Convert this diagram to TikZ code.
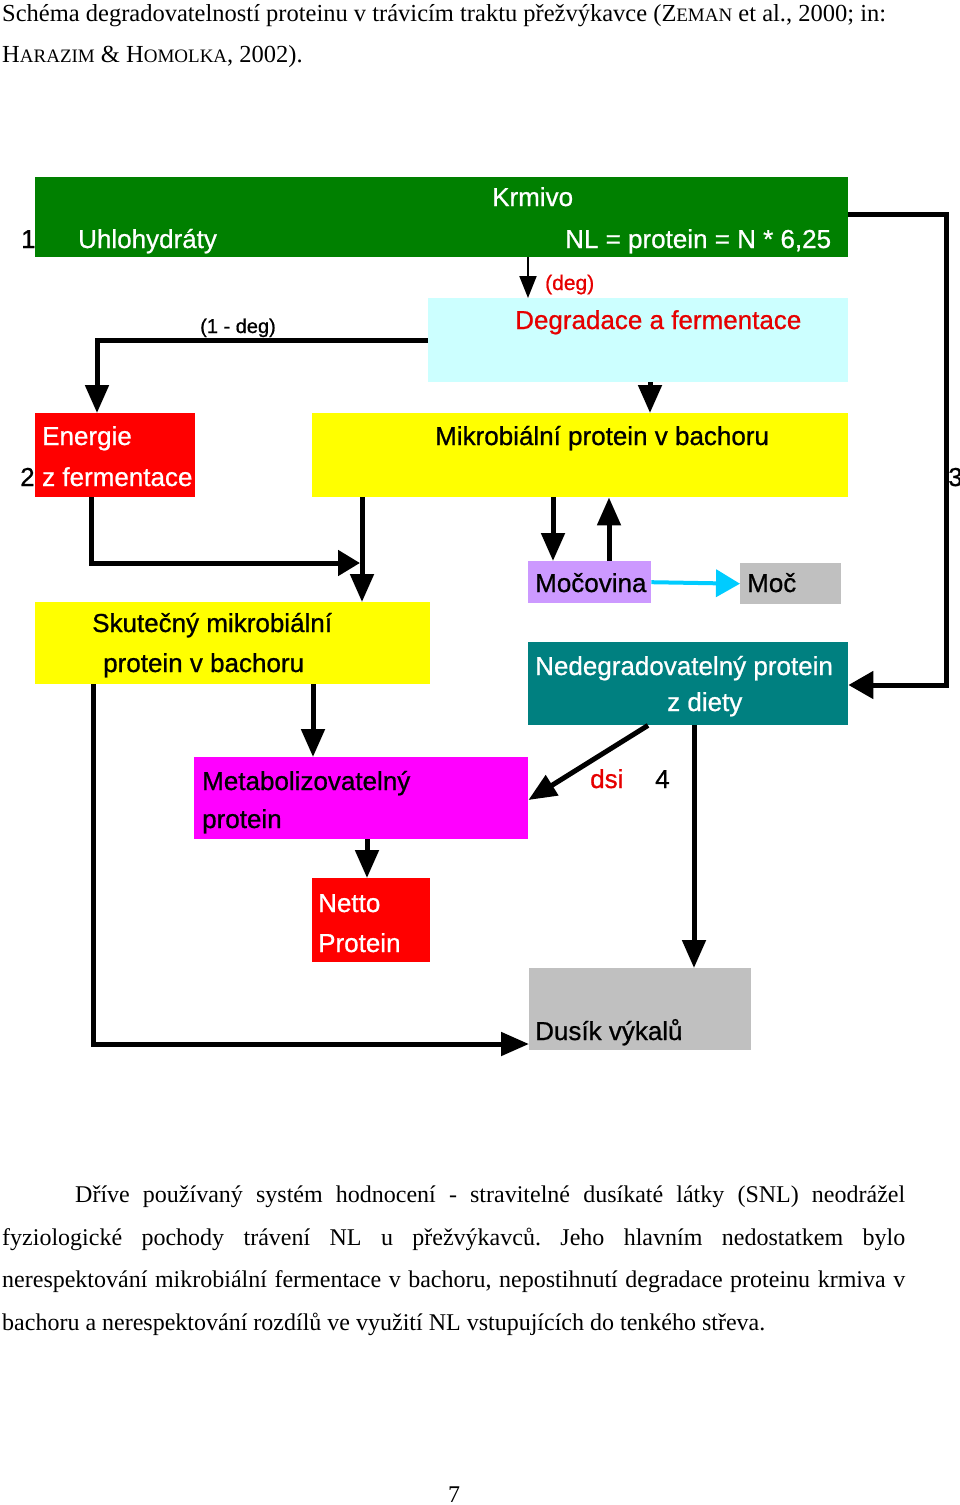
\documentclass[tikz,border=0pt]{standalone}
\usepackage{fontspec}
\setmainfont{Liberation Serif}
\newfontfamily\diafont{Liberation Sans}[FakeBold=0.8]
\usetikzlibrary{arrows.meta}
\frenchspacing
\definecolor{krmgreen}{RGB}{0,128,0}
\definecolor{degcyan}{RGB}{204,255,255}
\definecolor{boxred}{RGB}{255,0,0}
\definecolor{boxyellow}{RGB}{255,255,0}
\definecolor{lavender}{RGB}{204,153,255}
\definecolor{boxgrey}{RGB}{192,192,192}
\definecolor{boxteal}{RGB}{0,128,128}
\definecolor{boxmagenta}{RGB}{255,0,255}
\definecolor{urinecyan}{RGB}{0,204,255}
\definecolor{lblred}{RGB}{230,0,0}
\begin{document}
\begin{tikzpicture}[x=1pt,y=-1pt]
	\def\lblsize{\fontsize{26}{30}\selectfont}
	\def\txtsize{\fontsize{24}{42}\selectfont}
	\def\capsize{\fontsize{24.5}{42}\selectfont}
	\def\scap#1{{\fontsize{19}{19}\selectfont #1}}
	\tikzstyle{box}=[rectangle,inner sep=0pt,anchor=north west]
	\tikzstyle{lbl}=[anchor=base west,inner sep=0pt,font=\diafont\lblsize]
	\tikzstyle{txt}=[anchor=base west,inner sep=0pt,font=\txtsize]
	\tikzstyle{flow}=[line width=5pt,-{Triangle[length=28pt,width=23pt]}]
	\tikzstyle{thinflow}=[line width=2pt,-{Triangle[length=22pt,width=17pt]}]
	\tikzstyle{urine}=[line width=4pt,draw=urinecyan,-{Triangle[length=24pt,width=27pt]}]
	\useasboundingbox (0,0) rectangle (960,1505);

	% caption
	\node[txt,font=\capsize] (cap1) at (2,21) {Schéma degradovatelností proteinu v trávicím traktu přežvýkavce (Z\scap{EMAN} et al., 2000; in:};
	\node[txt,font=\capsize] (cap2) at (2,62) {H\scap{ARAZIM} \& H\scap{OMOLKA}, 2002).};

	% boxes
	\node[box,fill=krmgreen,minimum width=813pt,minimum height=80pt]	(krmivo)	at (35,177)	{};
	\node[box,fill=degcyan,minimum width=420pt,minimum height=84pt]		(degr)		at (428,298)	{};
	\node[box,fill=boxred,minimum width=160pt,minimum height=84pt]		(energie)	at (35,413)	{};
	\node[box,fill=boxyellow,minimum width=536pt,minimum height=84pt]	(mikro)		at (312,413)	{};
	\node[box,fill=boxyellow,minimum width=395pt,minimum height=82pt]	(skut)		at (35,602)	{};
	\node[box,fill=lavender,minimum width=123pt,minimum height=42pt]	(mocovina)	at (528,561)	{};
	\node[box,fill=boxgrey,minimum width=101pt,minimum height=41pt]		(moc)		at (740,563)	{};
	\node[box,fill=boxteal,minimum width=320pt,minimum height=83pt]		(nedeg)		at (528,642)	{};
	\node[box,fill=boxmagenta,minimum width=334pt,minimum height=82pt]	(metab)		at (194,757)	{};
	\node[box,fill=boxred,minimum width=118pt,minimum height=84pt]		(netto)		at (312,878)	{};
	\node[box,fill=boxgrey,minimum width=222pt,minimum height=82pt]		(dusik)		at (529,968)	{};

	% labels
	\node[lbl,text=white]	(t-krmivo)	at (492,206)	{Krmivo};
	\node[lbl,text=white]	(t-uhlo)	at (78,248)	{Uhlohydráty};
	\node[lbl,text=white]	(t-nl)		at (565,248)	{NL = protein = N * 6,25};
	\node[lbl]		(t-one)		at (21,248)	{1};
	\node[lbl,text=lblred,font=\diafont\fontsize{21}{24}\selectfont]	(t-deg)	at (545,290)	{(deg)};
	\node[lbl,text=lblred]	(t-degr)	at (515,329)	{Degradace a fermentace};
	\node[lbl,font=\diafont\fontsize{20}{24}\selectfont]	(t-onedeg)	at (200,333)	{(1 - deg)};
	\node[lbl,text=white]	(t-energie)	at (42,445)	{Energie};
	\node[lbl,text=white]	(t-zferm)	at (42,486)	{z fermentace};
	\node[lbl]		(t-two)		at (20,486)	{2};
	\node[lbl]		(t-mikro)	at (435,445)	{Mikrobiální protein v bachoru};
	\node[lbl]		(t-three)	at (948,486)	{3};
	\node[lbl]		(t-skut1)	at (92,632)	{Skutečný mikrobiální};
	\node[lbl]		(t-skut2)	at (103,672)	{protein v bachoru};
	\node[lbl]		(t-mocovina)	at (535,592)	{Močovina};
	\node[lbl]		(t-moc)		at (747,592)	{Moč};
	\node[lbl,text=white]	(t-nedeg1)	at (535,675)	{Nedegradovatelný protein};
	\node[lbl,text=white]	(t-nedeg2)	at (667,711)	{z diety};
	\node[lbl]		(t-metab1)	at (202,790)	{Metabolizovatelný};
	\node[lbl]		(t-metab2)	at (202,828)	{protein};
	\node[lbl,text=lblred]	(t-dsi)		at (590,788)	{dsi};
	\node[lbl]		(t-four)	at (655,788)	{4};
	\node[lbl,text=white]	(t-netto1)	at (318,912)	{Netto};
	\node[lbl,text=white]	(t-netto2)	at (318,952)	{Protein};
	\node[lbl]		(t-dusik)	at (535,1040)	{Dusík výkalů};

	% bends
	\coordinate (bend3) at (946,450);
	\coordinate (join) at (360,563);

	% flows
	\draw[thinflow] (krmivo.south -| 528,0) -- (degr.north -| 528,0);
	\draw[flow] (degr.west |- 0,340) -| (energie.north -| 97,0);
	\draw[flow] (degr.south -| 650,0) -- (mikro.north -| 650,0);
	\draw[flow,-{Triangle[length=25pt,width=27pt]}] (krmivo.east |- 0,214) -| (bend3) |- (nedeg.east |- 0,685);
	\draw[flow,-{Triangle[length=22pt,width=25pt]}] (energie.south -| 91,0) |- (join);
	\draw[flow] (mikro.south -| 362,0) -- (skut.north -| 362,0);
	\draw[flow] (mikro.south -| 553,0) -- (mocovina.north -| 553,0);
	\draw[flow] (mocovina.north -| 609,0) -- (mikro.south -| 609,0);
	\draw[urine] (mocovina.east) -- (moc.west);
	\draw[flow] (nedeg.south -| 648,0) -- (metab.east |- 0,800);
	\draw[flow] (nedeg.south -| 694,0) -- (dusik.north -| 694,0);
	\draw[flow] (skut.south -| 313,0) -- (metab.north -| 313,0);
	\draw[flow] (skut.south -| 93,0) |- (dusik.west |- 0,1044);
	\draw[flow] (metab.south -| 367,0) -- (netto.north -| 367,0);

	% paragraph
	\node[txt] (par1) at (75,1202)	{\makebox[830pt][s]{Dříve používaný systém hodnocení - stravitelné dusíkaté látky (SNL) neodrážel}};
	\node[txt] (par2) at (2,1245)	{\makebox[903pt][s]{fyziologické pochody trávení NL u přežvýkavců. Jeho hlavním nedostatkem bylo}};
	\node[txt] (par3) at (2,1287)	{\makebox[903pt][s]{nerespektování mikrobiální fermentace v bachoru, nepostihnutí degradace proteinu krmiva v}};
	\node[txt] (par4) at (2,1330)	{bachoru a nerespektování rozdílů ve využití NL vstupujících do tenkého střeva.};
	\node[txt] (pageno) at (448,1502)	{7};
\end{tikzpicture}
\end{document}
